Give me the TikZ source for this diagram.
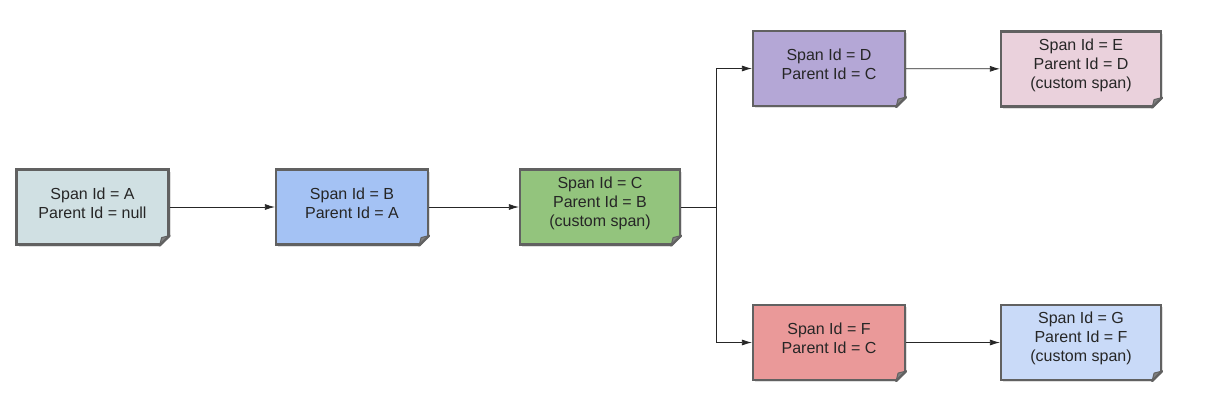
\documentclass[tikz,border=0pt]{standalone}
\usepackage{fontspec}
\setmainfont{Liberation Sans}
\usetikzlibrary{positioning,arrows.meta,shadows,calc}
\definecolor{spanA}{HTML}{D0E0E3}
\definecolor{spanB}{HTML}{A4C2F4}
\definecolor{spanC}{HTML}{93C47D}
\definecolor{spanD}{HTML}{B4A7D6}
\definecolor{spanE}{HTML}{EAD1DC}
\definecolor{spanF}{HTML}{EA9999}
\definecolor{spanG}{HTML}{C9DAF8}
\tikzset{
	span graph/.style={
		x=1pt, y=-1pt,
		font=\fontsize{16}{19}\selectfont,
		link/.style={
			thick,
			draw=black!85,
			-{Latex[length=10pt,width=6pt]}
		}
	},
	span/.style={
		rectangle,
		draw=black!62,
		line width=2.2pt,
		minimum width=152pt,
		minimum height=75pt,
		inner sep=0pt,
		drop shadow={shadow xshift=2pt,shadow yshift=-2pt,fill=black!25,opacity=.5}
	},
	custom span/.style={
		span,
		minimum width=160pt
	},
	span text/.style={
		align=center,
		text=black!85,
		inner sep=0pt,
		yshift=4pt
	},
	fold/.style={
		fill=black!50,
		draw=black!62,
		line width=1pt,
		line join=round
	},
	cut/.style={
		draw=black!62,
		line width=2.2pt,
		line cap=round
	}
}
\begin{document}
\begin{tikzpicture}[span graph]
	\useasboundingbox (0,0) rectangle (1213,408);
	% spans
	\node[span, fill=spanA, label={[span text]center:Span Id = A\\Parent Id = null}] (A) at (92.5,207) {};
	\node[span, fill=spanB, label={[span text]center:Span Id = B\\Parent Id = A}] (B) at (352,207) {};
	\node[custom span, fill=spanC, label={[span text]center:Span Id = C\\Parent Id = B\\(custom span)}] (C) at (600,207) {};
	\node[span, fill=spanD, label={[span text]center:Span Id = D\\Parent Id = C}] (D) at (829,68.5) {};
	\node[custom span, fill=spanE, label={[span text]center:Span Id = E\\Parent Id = D\\(custom span)}] (E) at (1081,69) {};
	\node[span, fill=spanF, label={[span text]center:Span Id = F\\Parent Id = C}] (F) at (829,342.5) {};
	\node[custom span, fill=spanG, label={[span text]center:Span Id = G\\Parent Id = F\\(custom span)}] (G) at (1081,342.5) {};
	% folded corners
	\foreach \n in {A,B,C,D,E,F,G}{
		\coordinate (corner) at (\n.south east);
		\fill[white] ($(corner)+(-11pt,-2pt)$) -- ($(corner)+(3pt,-2pt)$) -- ($(corner)+(3pt,11pt)$) -- cycle;
		\filldraw[fold] ($(corner)+(-10pt,0pt)$) -- ($(corner)+(0pt,10pt)$) -- ($(corner)+(-8pt,8pt)$) -- cycle;
		\draw[cut] ($(corner)+(-10pt,0pt)$) -- ($(corner)+(0pt,10pt)$);
	}
	% links
	\coordinate (split) at (716,207);
	\draw[link] (A) -- (B);
	\draw[link] (B) -- (C);
	\draw[thick, draw=black!85] (C) -- (split);
	\draw[link] (split) |- (D);
	\draw[link] (split) |- (F);
	\draw[link] (D) -- (E);
	\draw[link] (F) -- (G);
\end{tikzpicture}
\end{document}
